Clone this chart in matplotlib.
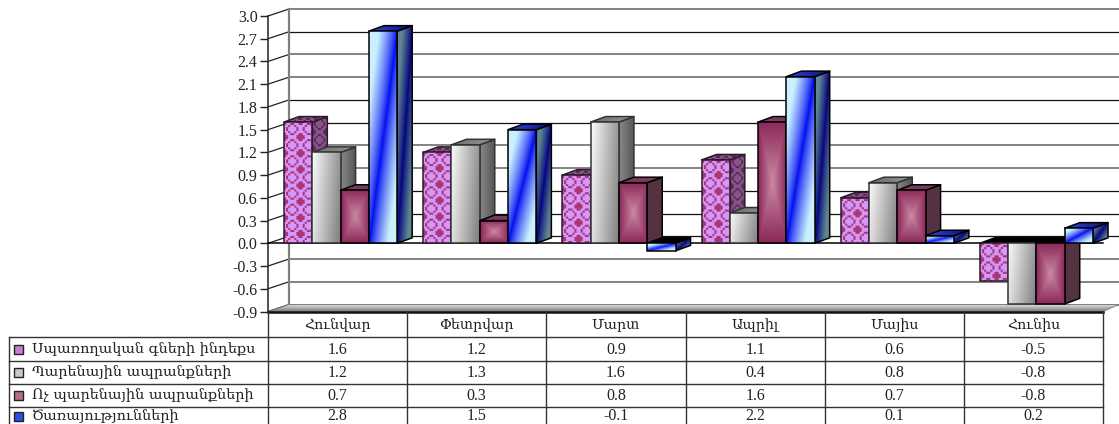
import numpy as np
import matplotlib
matplotlib.use("Agg")
import matplotlib.pyplot as plt
from matplotlib.patches import Polygon, Rectangle

months = ["Հունվար", "Փետրվար", "Մարտ", "Ապրիլ", "Մայիս", "Հունիս"]
series_names = ["Սպառողական գների ինդեքս", "Պարենային ապրանքների",
                "Ոչ պարենային ապրանքների", "Ծառայությունների"]
consumer = [1.6, 1.2, 0.9, 1.1, 0.6, -0.5]
food = [1.2, 1.3, 1.6, 0.4, 0.8, -0.8]
nonfood = [0.7, 0.3, 0.8, 1.6, 0.7, -0.8]
services = [2.8, 1.5, -0.1, 2.2, 0.1, 0.2]
yticks = [-0.9, -0.6, -0.3, 0.0, 0.3, 0.6, 0.9, 1.2, 1.5, 1.8, 2.1, 2.4, 2.7, 3.0]
K, G = ("#111111", 0.9), ("#7a7a7a", 1.3)
grid_styles = [G, G, G, K, K, K, G, G, K, K, G, G, K, G]

plt.rcParams["font.family"] = ["Liberation Serif", "DejaVu Serif"]
plt.rcParams["axes.unicode_minus"] = False

W, H = 1119, 424
L, R, T, B = 268.0, 1103.0, 16.0, 311.5
fig = plt.figure(figsize=(W / 100, H / 100), dpi=100)
ax = fig.add_axes([L / W, 1 - B / H, (R - L) / W, (B - T) / H])
ax.set_xlim(0, 6)
ax.set_ylim(-0.9, 3.0)
ax.set_autoscale_on(False)
ax.patch.set_alpha(0)
PX = 6 / (R - L)
PY = 3.9 / (B - T)
for s in ax.spines.values():
    s.set_visible(False)
ax.spines["left"].set_visible(True)
ax.spines["left"].set_color("#333333")
ax.spines["left"].set_linewidth(1.2)
ax.set_yticks(yticks)
ax.set_yticklabels(["%.1f" % t for t in yticks], fontsize=11.5, color="#222222")
ax.tick_params(axis="y", length=5.5, width=1, pad=2, color="#222222")
ax.set_xticks(np.arange(6) + 0.5)
ax.set_xticklabels(months, fontsize=10.2, color="#222222")
ax.tick_params(axis="x", length=0, pad=5)

z = [3]


def nextz():
    z[0] += 1
    return z[0]


def grid_uv(ny, nx):
    v, u = np.mgrid[0:1:complex(0, max(ny, 2)), 0:1:complex(0, max(nx, 2))]
    return u, v


def mix(c0, c1, t):
    c0, c1 = np.array(c0) / 255.0, np.array(c1) / 255.0
    return c0 + (c1 - c0) * t[..., None]


def g_blue(u, v):
    t2 = np.abs((u + v) / 2 - 0.5) * 2
    return mix((0, 10, 240), (200, 240, 255), np.clip(t2 * 1.5, 0, 1) ** 0.8)


def g_side_blue(u, v):
    t2 = np.abs((u + v) / 2 - 0.5) * 2
    return mix((5, 5, 125), (95, 135, 145), np.clip(t2 * 1.5, 0, 1) ** 0.9)


def g_gray(u, v):
    return mix((250, 250, 250), (125, 125, 125), (u * 0.8 + v * 0.2))


def g_maroon(u, v):
    t = np.maximum(np.abs(u - 0.5), np.abs(v - 0.5)) * 2
    return mix((203, 138, 163), (140, 40, 90), t)


TILE = np.array([
    [1, 1, 0, 0, 0, 0, 1, 1],
    [1, 0, 0, 1, 1, 0, 0, 1],
    [0, 0, 1, 0, 0, 1, 0, 0],
    [0, 1, 0, 0, 0, 0, 1, 0],
    [0, 1, 0, 0, 0, 0, 1, 0],
    [0, 0, 1, 0, 0, 1, 0, 0],
    [1, 0, 0, 1, 1, 0, 0, 1],
    [1, 1, 0, 0, 0, 0, 1, 1],
], dtype=float)


def texture(hpx, wpx, c0, c1):
    hpx, wpx = max(int(hpx), 2), max(int(wpx), 2)
    rep = np.kron(TILE, np.ones((2, 2)))
    a = np.tile(rep, (hpx // 16 + 1, wpx // 16 + 1))[:hpx, :wpx]
    return mix(c0, c1, a)


def fill(pts, rgb, edge="black", lw=1.1):
    xs, ys = zip(*pts)
    zz = nextz()
    clip = Polygon(pts, closed=True, fc="none", ec="none", transform=ax.transData, zorder=zz)
    ax.add_patch(clip)
    im = ax.imshow(rgb, extent=(min(xs), max(xs), min(ys), max(ys)), origin="upper",
                   aspect="auto", interpolation="bilinear", zorder=zz)
    im.set_clip_path(clip)
    im.set_clip_box(fig.bbox)
    ax.add_patch(Polygon(pts, closed=True, fc="none", ec=edge, lw=lw, zorder=zz,
                         clip_on=False, joinstyle="round"))


# walls, floor, grid
DX, DY = 21 * PX, 7 * PY
XE = 6 + 16 * PX
for t, (c, lw) in zip(yticks, grid_styles):
    ax.plot([0, DX], [t, t + DY], color="#222222", lw=0.9, clip_on=False, zorder=1)
    ax.plot([DX, XE], [t + DY, t + DY], color=c, lw=lw, clip_on=False, zorder=1)
ax.plot([DX, DX], [-0.9 + DY, 3 + DY], color="#808080", lw=1.6, clip_on=False, zorder=2)
ax.plot([0, 6], [0, 0], color="black", lw=1.1, clip_on=False, zorder=3)
u, v = grid_uv(8, 2)
floor = mix((225, 225, 225), (135, 135, 135), v)
fill([(0, -0.9), (DX, -0.9 + DY), (XE, -0.9 + DY), (6, -0.9)], floor, edge="#777777", lw=0.6)

# bars
BW = 28.3 * PX
OFF = 16 * PX
BDX, BDY = 15.0 * PX, 5.5 * PY
values = [consumer, food, nonfood, services]
for cat in range(6):
    for s in range(4):
        val = values[s][cat]
        x = cat + OFF + (s + 0.5) * BW
        rect = ax.bar(x, val, BW, color="none", edgecolor="none", zorder=2)[0]
        x0, w = rect.get_x(), rect.get_width()
        lo, hi = min(val, 0), max(val, 0)
        wpx, hpx = w / PX, (hi - lo) / PY
        side = [(x0 + w, lo), (x0 + w + BDX, lo + BDY), (x0 + w + BDX, hi + BDY), (x0 + w, hi)]
        top = [(x0, hi), (x0 + BDX, hi + BDY), (x0 + w + BDX, hi + BDY), (x0 + w, hi)]
        su, sv = grid_uv(max(int(hpx) + 5, 2), 16)
        tu, tv = grid_uv(6, int(wpx) + 16)
        fu, fv = grid_uv(max(int(hpx), 2), int(wpx))
        edge = "black"
        if s == 0:
            front = texture(hpx, wpx, (212, 152, 252), (170, 55, 115))
            sd = texture(hpx + 5, 16, (135, 85, 140), (90, 40, 85))
            tp = texture(6, wpx + 16, (135, 85, 140), (90, 40, 85))
            edge = "#2a1a2a"
        elif s == 1:
            front = g_gray(fu, fv)
            sd = mix((135, 135, 135), (85, 85, 85), su)
            tp = mix((110, 110, 110), (150, 150, 150), tu)
            edge = "#333333"
        elif s == 2:
            front = g_maroon(fu, fv)
            sd = np.broadcast_to(np.array([85, 50, 65]) / 255.0, su.shape + (3,))
            tp = np.broadcast_to(np.array([120, 60, 90]) / 255.0, tu.shape + (3,))
        else:
            front = g_blue(fu, fv)
            sd = g_side_blue(su, sv)
            tp = mix((45, 75, 215), (10, 10, 130), tu)
        if val < 0:
            tp = np.zeros(tu.shape + (3,))
        fill(side, sd, edge=edge)
        fill(top, tp, edge="black" if val < 0 else edge)
        fill([(x0, lo), (x0 + w, lo), (x0 + w, hi), (x0, hi)], front, edge=edge)

ax.set_xlim(0, 6)
ax.set_ylim(-0.9, 3.0)

# data table
tax = fig.add_axes([0, 0, 1, 1])
tax.set_xlim(0, W)
tax.set_ylim(H, 0)
tax.axis("off")
tax.patch.set_alpha(0)
cols = np.linspace(L, R, 7)
row_lines = [336.5, 361, 384, 407]
row_text = [350, 373, 396, 416.5]
tc = "#333333"
tax.plot([L, R], [B, B], color="#111111", lw=1.8)
for c in cols:
    tax.plot([c, c], [B, H], color=tc, lw=1.0)
tax.plot([8.5, 8.5], [row_lines[0], H], color=tc, lw=1.0)
for y in row_lines:
    tax.plot([8.5, R], [y, y], color=tc, lw=1.0)
key_face = ["#c77fd6", "#c8c8c8", "#b86a8a", "#2a50e0"]
for s, name in enumerate(series_names):
    y = row_text[s]
    tax.add_patch(Rectangle((14, y - 5), 9, 9, fc=key_face[s], ec="#222222", lw=1.0))
    tax.text(32, y, name, fontsize=10.4, va="center", ha="left", color="#222222",
             family=["DejaVu Serif"], clip_on=True)
    for c in range(6):
        tax.text((cols[c] + cols[c + 1]) / 2, y, "%.1f" % values[s][c], fontsize=11.5,
                 va="center", ha="center", color="#222222", clip_on=True)

fig.savefig("out.png", dpi=100)
